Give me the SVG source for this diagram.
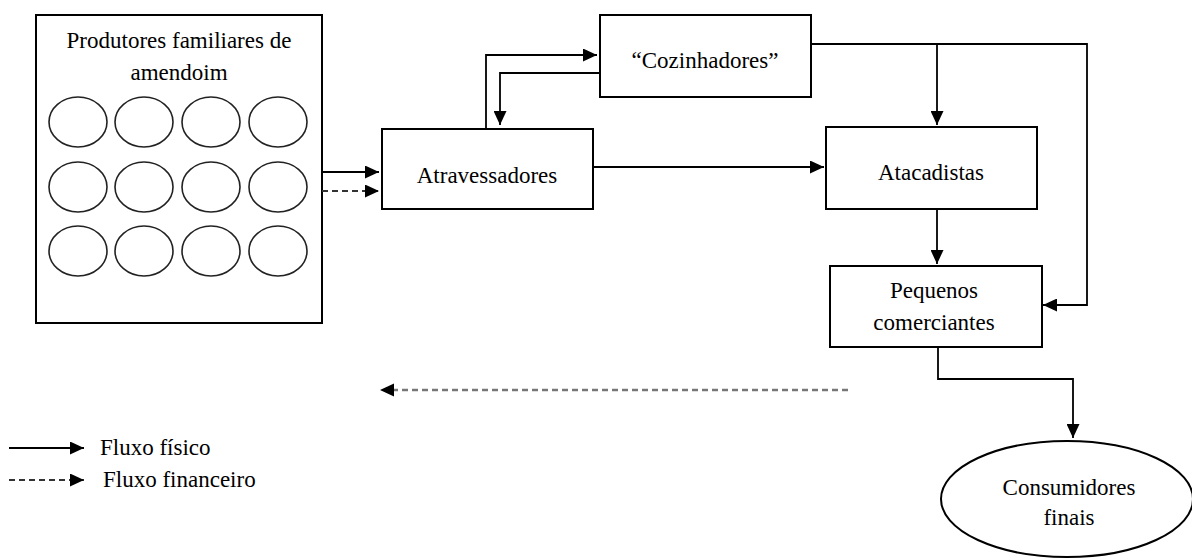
<svg xmlns="http://www.w3.org/2000/svg" width="1192" height="558" viewBox="0 0 1192 558">
<style>
  .box { fill: #fff; stroke: #000; stroke-width: 2; }
  .circ { fill: #fff; stroke: #222; stroke-width: 1.6; }
  .solid { fill: none; stroke: #000; stroke-width: 1.8; }
  .dash { fill: none; stroke: #333; stroke-width: 1.8; stroke-dasharray: 6 4; }
  .dashg { fill: none; stroke: #777; stroke-width: 2.4; stroke-dasharray: 6 4; }
</style>
<defs>
  <marker id="ah" markerUnits="userSpaceOnUse" markerWidth="15" markerHeight="13" refX="14" refY="6.5" orient="auto">
    <path d="M0,0 L14,6.5 L0,13 z" fill="#000"/>
  </marker>
</defs>
<rect width="1192" height="558" fill="#fff"/>

<g id="produtores">
  <rect class="box" x="36" y="15" width="286" height="308"/>
  <g font-family="Liberation Serif, DejaVu Serif, serif" font-size="23" text-anchor="middle" fill="#000">
    <text x="179" y="48">Produtores familiares de</text>
    <text x="179" y="80">amendoim</text>
  </g>
  <ellipse class="circ" cx="78" cy="122" rx="29" ry="25"/>
  <ellipse class="circ" cx="144" cy="122" rx="29" ry="25"/>
  <ellipse class="circ" cx="211" cy="122" rx="29" ry="25"/>
  <ellipse class="circ" cx="278" cy="122" rx="29" ry="25"/>
  <ellipse class="circ" cx="78" cy="187" rx="29" ry="25"/>
  <ellipse class="circ" cx="144" cy="187" rx="29" ry="25"/>
  <ellipse class="circ" cx="211" cy="187" rx="29" ry="25"/>
  <ellipse class="circ" cx="278" cy="187" rx="29" ry="25"/>
  <ellipse class="circ" cx="78" cy="251" rx="29" ry="25"/>
  <ellipse class="circ" cx="144" cy="251" rx="29" ry="25"/>
  <ellipse class="circ" cx="211" cy="251" rx="29" ry="25"/>
  <ellipse class="circ" cx="278" cy="251" rx="29" ry="25"/>
</g>

<g id="atravessadores">
  <rect class="box" x="382" y="129" width="211" height="80"/>
  <text x="487" y="183" font-family="Liberation Serif, DejaVu Serif, serif" font-size="23" text-anchor="middle">Atravessadores</text>
</g>

<g id="cozinhadores">
  <rect class="box" x="600" y="15" width="211" height="82"/>
  <text x="705" y="68" font-family="Liberation Serif, DejaVu Serif, serif" font-size="23" text-anchor="middle">“Cozinhadores”</text>
</g>

<g id="atacadistas">
  <rect class="box" x="826" y="127" width="211" height="82"/>
  <text x="931" y="180" font-family="Liberation Serif, DejaVu Serif, serif" font-size="23" text-anchor="middle">Atacadistas</text>
</g>

<g id="pequenos">
  <rect class="box" x="830" y="266" width="212" height="81"/>
  <g font-family="Liberation Serif, DejaVu Serif, serif" font-size="23" text-anchor="middle">
    <text x="934" y="298">Pequenos</text>
    <text x="934" y="330">comerciantes</text>
  </g>
</g>

<g id="consumidores">
  <ellipse class="box" cx="1067" cy="499" rx="126" ry="58" stroke-width="1.6"/>
  <g font-family="Liberation Serif, DejaVu Serif, serif" font-size="23" text-anchor="middle">
    <text x="1069" y="495">Consumidores</text>
    <text x="1069" y="525">finais</text>
  </g>
</g>

<g id="connectors">
  <path class="solid" d="M322,172 H379" marker-end="url(#ah)"/>
  <path class="dash" d="M322,191 H379" marker-end="url(#ah)"/>
  <path class="solid" d="M486,129 V55 H597" marker-end="url(#ah)"/>
  <path class="solid" d="M600,73 H500 V125" marker-end="url(#ah)"/>
  <path class="solid" d="M593,167 H824" marker-end="url(#ah)"/>
  <path class="solid" d="M811,44 H1087 V305 H1043" marker-end="url(#ah)"/>
  <path class="solid" d="M937,44 V125" marker-end="url(#ah)"/>
  <path class="solid" d="M937,209 V264" marker-end="url(#ah)"/>
  <path class="solid" d="M938,347 V379 H1073 V438" marker-end="url(#ah)"/>
  <path class="dashg" d="M848,390 H392"/>
  <path d="M380,390 L394,383.5 L394,396.5 z" fill="#000"/>
</g>

<g id="legend">
  <path class="solid" d="M9,448 H84" marker-end="url(#ah)" stroke="#333"/>
  <path class="dash" d="M9,480 H84" stroke="#000" stroke-dasharray="4 3" marker-end="url(#ah)"/>
  <g font-family="Liberation Serif, DejaVu Serif, serif" font-size="23">
    <text x="100" y="455">Fluxo físico</text>
    <text x="103" y="487">Fluxo financeiro</text>
  </g>
</g>
</svg>
